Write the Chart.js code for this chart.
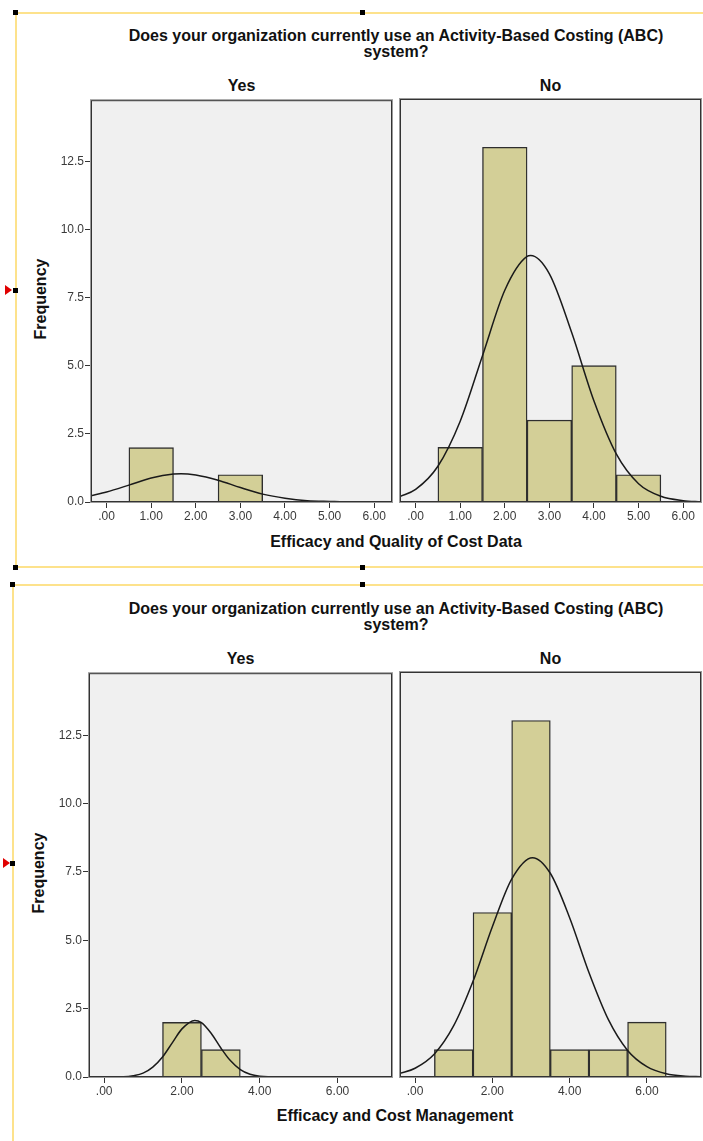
<!DOCTYPE html>
<html>
<head>
<meta charset="utf-8">
<script src="https://cdn.jsdelivr.net/npm/chart.js@4"></script>
<style>
  body { margin: 0; background: #fff; }
  #page { position: relative; width: 703px; height: 1141px; overflow: hidden; font-family: "Liberation Sans", Arial, sans-serif; }
  .abs { position: absolute; }
  .title { font-weight: bold; font-size: 16px; color: #111; text-align: center; line-height: 16px; }
  .panel-label { font-weight: bold; font-size: 16px; color: #111; text-align: center; }
  .axis-title { font-weight: bold; font-size: 16px; color: #111; text-align: center; }
  .freq { font-weight: bold; font-size: 16px; color: #111; transform: rotate(-90deg); transform-origin: center; width: 100px; text-align: center; }
  .yline { background: #fde28c; }
  .handle { width: 5px; height: 5px; background: #000; }
  .arrow { width: 0; height: 0; border-top: 5px solid transparent; border-bottom: 5px solid transparent; border-left: 7px solid #e00000; }
  canvas { position: absolute; }
</style>
</head>
<body>
<div id="page">
  <!-- selection frames -->
  <div class="abs yline" style="left:15px;top:12px;width:688px;height:2px"></div>
  <div class="abs yline" style="left:15px;top:12px;width:2px;height:556px"></div>
  <div class="abs yline" style="left:15px;top:566px;width:688px;height:2px"></div>
  <div class="abs handle" style="left:13px;top:10px"></div>
  <div class="abs handle" style="left:360px;top:10px"></div>
  <div class="abs handle" style="left:13px;top:288px"></div>
  <div class="abs arrow" style="left:5px;top:285px"></div>
  <div class="abs handle" style="left:13px;top:565px"></div>
  <div class="abs handle" style="left:360px;top:565px"></div>

  <div class="abs yline" style="left:12px;top:584px;width:691px;height:2px"></div>
  <div class="abs yline" style="left:12px;top:584px;width:2px;height:557px"></div>
  <div class="abs handle" style="left:10px;top:582px"></div>
  <div class="abs handle" style="left:360px;top:582px"></div>
  <div class="abs handle" style="left:10px;top:861px"></div>
  <div class="abs arrow" style="left:3px;top:858px"></div>

  <!-- chart 1 texts -->
  <div class="abs title" style="left:90px;top:28px;width:612px">Does your organization currently use an Activity-Based Costing (ABC)<br>system?</div>
  <div class="abs panel-label" style="left:91px;top:77px;width:301px">Yes</div>
  <div class="abs panel-label" style="left:400px;top:77px;width:301px">No</div>
  <div class="abs freq" style="left:-9px;top:290px">Frequency</div>
  <div class="abs axis-title" style="left:91px;top:533px;width:610px">Efficacy and Quality of Cost Data</div>

  <!-- chart 2 texts -->
  <div class="abs title" style="left:90px;top:601px;width:612px">Does your organization currently use an Activity-Based Costing (ABC)<br>system?</div>
  <div class="abs panel-label" style="left:89px;top:650px;width:303px">Yes</div>
  <div class="abs panel-label" style="left:400px;top:650px;width:301px">No</div>
  <div class="abs freq" style="left:-11px;top:864px">Frequency</div>
  <div class="abs axis-title" style="left:89px;top:1107px;width:612px">Efficacy and Cost Management</div>

  <canvas id="qYes" width="356" height="440" style="left:40px;top:92px"></canvas>
  <canvas id="qNo" width="307" height="440" style="left:396px;top:92px"></canvas>
  <canvas id="mYes" width="356" height="440" style="left:40px;top:665px"></canvas>
  <canvas id="mNo" width="307" height="440" style="left:396px;top:665px"></canvas>
</div>

<script>
// ---- histogram data ----
const binCenters = [1, 2, 3, 4, 5, 6];
const qualityYesCounts = [2, 0, 1, 0, 0, 0];
const qualityNoCounts = [2, 13, 3, 5, 1, 0];
const mgmtYesCounts = [0, 2, 1, 0, 0, 0];
const mgmtNoCounts = [1, 6, 13, 1, 1, 2];

// ---- normal curves ----
const qualityYesCurveX = [-0.35, 0, 0.5, 1, 1.5, 1.67, 2, 2.5, 3, 3.5, 4, 4.5, 5, 5.5, 6, 6.4];
const qualityYesCurveY = [0.23, 0.37, 0.62, 0.88, 1.03, 1.04, 0.99, 0.80, 0.53, 0.29, 0.14, 0.05, 0.02, 0.00, 0.00, 0.00];
const qualityNoCurveX = [-0.35, 0, 0.5, 1, 1.5, 2, 2.5, 2.58, 3, 3.5, 4, 4.5, 5, 5.5, 6, 6.4];
const qualityNoCurveY = [0.20, 0.46, 1.31, 2.96, 5.36, 7.76, 9.00, 9.03, 8.36, 6.21, 3.70, 1.76, 0.67, 0.21, 0.05, 0.01];
const mgmtYesCurveX = [-0.4, 0, 0.5, 0.75, 1, 1.25, 1.5, 1.75, 2, 2.33, 2.5, 2.75, 3, 3.25, 3.5, 3.75, 4, 4.5, 5, 6, 7.4];
const mgmtYesCurveY = [0, 0, 0.01, 0.05, 0.14, 0.36, 0.73, 1.25, 1.76, 2.07, 1.99, 1.60, 1.06, 0.59, 0.27, 0.10, 0.03, 0, 0, 0, 0];
const mgmtNoCurveX = [-0.4, 0, 0.5, 1, 1.5, 2, 2.5, 3.04, 3.5, 4, 4.5, 5, 5.5, 6, 6.5, 7, 7.4];
const mgmtNoCurveY = [0.13, 0.32, 0.84, 1.87, 3.49, 5.48, 7.22, 8.00, 7.43, 5.81, 3.81, 2.10, 0.97, 0.38, 0.12, 0.03, 0.01];

// ---- axes ----
const yTicks = [0, 2.5, 5, 7.5, 10, 12.5];
const yTickLabels = ['0.0', '2.5', '5.0', '7.5', '10.0', '12.5'];
const yMax = 14.77;
const qualityXTicks = [0, 1, 2, 3, 4, 5, 6];
const qualityXLabels = ['.00', '1.00', '2.00', '3.00', '4.00', '5.00', '6.00'];
const qualityXRange = [-0.35, 6.4];
const mgmtXTicks = [0, 2, 4, 6];
const mgmtXLabels = ['.00', '2.00', '4.00', '6.00'];
const mgmtXRange = [-0.39, 7.4];

const FONT = '"Liberation Sans", Arial, sans-serif';

// panel background + frame
const panelPlugin = {
  id: 'panel',
  beforeDatasetsDraw(chart) {
    const a = chart.chartArea, ctx = chart.ctx;
    ctx.save();
    ctx.fillStyle = '#f0f0f0';
    ctx.fillRect(a.left, a.top, a.right - a.left, a.bottom - a.top);
    ctx.restore();
  },
  afterDatasetsDraw(chart) {
    const a = chart.chartArea, ctx = chart.ctx;
    ctx.save();
    ctx.strokeStyle = '#9a9a9a';
    ctx.lineWidth = 1;
    ctx.strokeRect(a.left - 0.5, a.top - 0.5, a.right - a.left + 1, a.bottom - a.top + 1);
    ctx.strokeStyle = '#333333';
    ctx.strokeRect(a.left + 0.5, a.top + 0.5, a.right - a.left - 1, a.bottom - a.top - 1);
    ctx.restore();
  }
};

function makePanel(id, counts, curveX, curveY, xRange, xTicks, xLabels, opts) {
  const bars = binCenters.map((b, i) => ({ x: b, y: counts[i] }));
  const curve = curveX.map((x, i) => ({ x: x, y: curveY[i] }));
  return new Chart(document.getElementById(id), {
    type: 'bar',
    data: {
      datasets: [
        {
          type: 'line',
          data: curve,
          borderColor: '#1a1a1a',
          borderWidth: 1.5,
          pointRadius: 0,
          cubicInterpolationMode: 'monotone',
          order: 0
        },
        {
          type: 'bar',
          data: bars,
          backgroundColor: '#d3cf97',
          borderColor: '#2e2e2e',
          borderWidth: ctx => (ctx.raw && ctx.raw.y > 0 ? 1.4 : 0),
          borderSkipped: 'start',
          barPercentage: 1,
          categoryPercentage: 1,
          order: 1
        }
      ]
    },
    options: {
      responsive: false,
      animation: false,
      devicePixelRatio: 1,
      layout: { padding: { top: 7, right: opts.padRight, left: opts.padLeft, bottom: 0 } },
      plugins: { legend: { display: false }, tooltip: { enabled: false } },
      scales: {
        x: {
          type: 'linear',
          min: xRange[0],
          max: xRange[1],
          offset: false,
          afterBuildTicks: s => { s.ticks = xTicks.map(v => ({ value: v })); },
          afterFit: s => { s.height = opts.xHeight; },
          grid: { offset: false, drawOnChartArea: false, drawTicks: true, tickLength: 6, color: '#333' },
          border: { display: false },
          ticks: {
            padding: 1,
            color: '#3a3a3a',
            font: { family: FONT, size: 12 },
            maxRotation: 0,
            autoSkip: false,
            callback: v => xLabels[xTicks.indexOf(v)]
          }
        },
        y: {
          display: opts.showY,
          min: 0,
          max: yMax,
          afterBuildTicks: s => { s.ticks = yTicks.map(v => ({ value: v })); },
          afterFit: s => { s.width = opts.yWidth; },
          grid: { drawOnChartArea: false, drawTicks: true, tickLength: 6, color: '#333' },
          border: { display: false },
          ticks: {
            padding: 1,
            color: '#3a3a3a',
            font: { family: FONT, size: 12 },
            callback: v => yTickLabels[yTicks.indexOf(v)]
          }
        }
      }
    },
    plugins: [panelPlugin]
  });
}

makePanel('qYes', qualityYesCounts, qualityYesCurveX, qualityYesCurveY, qualityXRange, qualityXTicks, qualityXLabels,
  { showY: true, yWidth: 51, xHeight: 30, padLeft: 0, padRight: 4 });
makePanel('qNo', qualityNoCounts, qualityNoCurveX, qualityNoCurveY, qualityXRange, qualityXTicks, qualityXLabels,
  { showY: false, yWidth: 0, xHeight: 30, padLeft: 4, padRight: 2 });
makePanel('mYes', mgmtYesCounts, mgmtYesCurveX, mgmtYesCurveY, mgmtXRange, mgmtXTicks, mgmtXLabels,
  { showY: true, yWidth: 49, xHeight: 28, padLeft: 0, padRight: 4 });
makePanel('mNo', mgmtNoCounts, mgmtNoCurveX, mgmtNoCurveY, mgmtXRange, mgmtXTicks, mgmtXLabels,
  { showY: false, yWidth: 0, xHeight: 28, padLeft: 4, padRight: 2 });
</script>
</body>
</html>
